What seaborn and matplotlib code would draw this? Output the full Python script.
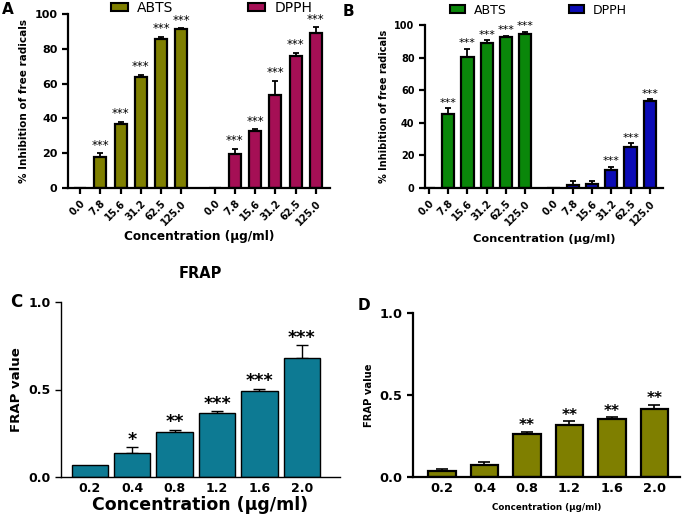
import numpy as np
import matplotlib
matplotlib.use("Agg")
import matplotlib.pyplot as plt
from matplotlib.patches import Patch
import seaborn as sns

sns.set_style("ticks")
plt.rcParams['font.family'] = ['DejaVu Sans']
plt.rcParams['font.weight'] = 'bold'
for key in ['text.color', 'axes.labelcolor', 'xtick.color', 'ytick.color', 'axes.edgecolor']:
    plt.rcParams[key] = 'black'

# ---- data ----
conc_ab = ["0.0", "7.8", "15.6", "31.2", "62.5", "125.0"]
conc_frap = ["0.2", "0.4", "0.8", "1.2", "1.6", "2.0"]

# panel A
a_abts = [0, 17.8, 36.9, 63.7, 85.7, 91.2]
a_abts_err = [0, 2.3, 1.1, 1.5, 1.3, 0.6]
a_abts_sig = ["", "***", "***", "***", "***", "***"]
a_dpph = [0, 19.7, 32.5, 53.5, 75.9, 88.9]
a_dpph_err = [0, 2.9, 1.3, 8.1, 1.9, 3.5]
a_dpph_sig = ["", "***", "***", "***", "***", "***"]

# panel B
b_abts = [0, 45.3, 80.6, 89.2, 92.4, 94.3]
b_abts_err = [0, 3.5, 4.7, 1.4, 1.1, 1.6]
b_abts_sig = ["", "***", "***", "***", "***", "***"]
b_dpph = [0, 2.0, 2.4, 10.8, 25.3, 53.1]
b_dpph_err = [0, 2.5, 2.1, 2.1, 2.3, 1.4]
b_dpph_sig = ["", "", "", "***", "***", "***"]

# panel C
c_frap = [0.067, 0.139, 0.257, 0.368, 0.49, 0.68]
c_frap_err = [0, 0.032, 0.013, 0.009, 0.015, 0.072]
c_frap_sig = ["", "*", "**", "***", "***", "***"]

# panel D
d_frap = [0.035, 0.073, 0.261, 0.316, 0.353, 0.414]
d_frap_err = [0.016, 0.017, 0.015, 0.025, 0.012, 0.027]
d_frap_sig = ["", "", "**", "**", "**", "**"]

# colours
col_a_abts = "#7f7f00"
col_a_dpph = "#a50f55"
col_b_abts = "#0a870a"
col_b_dpph = "#0b0bb5"
col_c = "#0d7a93"
col_d = "#7f7f00"

W, H = 685, 521
fig = plt.figure(figsize=(W / 100, H / 100), dpi=100)


def axes_px(left, top, right, bottom):
    return fig.add_axes([left / W, 1 - bottom / H, (right - left) / W, (bottom - top) / H])


def draw_series(ax, x, vals, errs, sigs, color, width, lw, capsize, elw,
                star_size, star_pad, star_weight="normal"):
    sns.barplot(x=x, y=vals, native_scale=True, color=color, saturation=1,
                edgecolor="black", linewidth=lw, width=width, errorbar=None,
                ax=ax, zorder=2)
    x = np.asarray(x, dtype=float)
    vals = np.asarray(vals, dtype=float)
    errs = np.asarray(errs, dtype=float)
    m = errs > 0
    ax.errorbar(x[m], vals[m], yerr=[np.zeros(m.sum()), errs[m]], fmt="none",
                ecolor="black", elinewidth=elw, capsize=capsize, capthick=elw, zorder=1)
    for xi, v, e, s in zip(x, vals, errs, sigs):
        if s:
            ax.text(xi, v + e + star_pad, s, ha="center", va="bottom",
                    fontsize=star_size, fontweight=star_weight)


def style_axes(ax, spine_w):
    sns.despine(ax=ax)
    for s in ["left", "bottom"]:
        ax.spines[s].set_linewidth(spine_w)
    ax.tick_params(width=spine_w, length=4)


def legend_two(ax, labels, colors, anchor, size, colspace):
    handles = [Patch(facecolor=c, edgecolor="black", linewidth=1.5, label=l)
               for l, c in zip(labels, colors)]
    ax.legend(handles=handles, loc="center left", bbox_to_anchor=anchor,
              bbox_transform=fig.transFigure, ncol=2, frameon=False,
              prop={"weight": "normal", "size": size},
              handlelength=1.2, handleheight=0.55, handletextpad=0.7,
              columnspacing=colspace, borderpad=0, borderaxespad=0)


# ---- panel A ----
axA = axes_px(68, 14, 330, 188)
xa1 = np.arange(len(conc_ab))
xa2 = xa1 + 6.65
draw_series(axA, xa1, a_abts, a_abts_err, a_abts_sig, col_a_abts, 0.6, 1.6, 2.5, 1.3, 8.5, 0.8)
draw_series(axA, xa2, a_dpph, a_dpph_err, a_dpph_sig, col_a_dpph, 0.6, 1.6, 2.5, 1.3, 8.5, 0.8)
axA.set_xlim(-0.6, xa2[-1] + 0.7)
axA.set_ylim(0, 100)
axA.set_yticks([0, 20, 40, 60, 80, 100])
axA.set_xticks(np.concatenate([xa1, xa2]))
axA.set_xticklabels(conc_ab + conc_ab, rotation=45, ha="right", rotation_mode="anchor",
                    fontsize=7, fontweight="bold")
axA.tick_params(axis="y", labelsize=8)
axA.set_ylabel("% Inhibition of free radicals", fontsize=7.5, fontweight="bold")
axA.set_xlabel("Concentration (µg/ml)", fontsize=8.7, fontweight="bold", labelpad=2)
style_axes(axA, 1.6)
legend_two(axA, ["ABTS", "DPPH"], [col_a_abts, col_a_dpph], (111 / W, 1 - 8 / H), 10, 5.35)

# ---- panel B ----
axB = axes_px(425, 25, 663, 188)
xb1 = np.arange(len(conc_ab))
xb2 = xb1 + 6.46
draw_series(axB, xb1, b_abts, b_abts_err, b_abts_sig, col_b_abts, 0.64, 1.6, 2.5, 1.3, 8, 0.3)
draw_series(axB, xb2, b_dpph, b_dpph_err, b_dpph_sig, col_b_dpph, 0.64, 1.6, 2.5, 1.3, 8, 0.3)
axB.set_xlim(-0.2, xb2[-1] + 0.68)
axB.set_ylim(0, 100)
axB.set_yticks([0, 20, 40, 60, 80, 100])
axB.set_xticks(np.concatenate([xb1, xb2]))
axB.set_xticklabels(conc_ab + conc_ab, rotation=45, ha="right", rotation_mode="anchor",
                    fontsize=7, fontweight="bold")
axB.tick_params(axis="y", labelsize=7)
axB.set_ylabel("% Inhibition of free radicals", fontsize=7, fontweight="bold")
axB.set_xlabel("Concentration (µg/ml)", fontsize=8.2, fontweight="bold", labelpad=5)
style_axes(axB, 1.6)
legend_two(axB, ["ABTS", "DPPH"], [col_b_abts, col_b_dpph], (450 / W, 1 - 10 / H), 9, 4.95)

# ---- panel C ----
axC = axes_px(61, 302, 340, 477)
xc = np.arange(len(conc_frap))
draw_series(axC, xc, c_frap, c_frap_err, c_frap_sig, col_c, 0.86, 1.0, 4, 1.0, 12.5, -0.01, "bold")
axC.set_xlim(-0.68, xc[-1] + 0.9)
axC.set_ylim(0, 1.0)
axC.set_yticks([0.0, 0.5, 1.0])
axC.set_yticklabels(["0.0", "0.5", "1.0"], fontsize=9, fontweight="bold")
axC.set_xticks(xc)
axC.set_xticklabels(conc_frap, fontsize=9, fontweight="bold")
axC.set_ylabel("FRAP value", fontsize=9.5, fontweight="bold")
axC.set_xlabel("Concentration (µg/ml)", fontsize=12.5, fontweight="bold", labelpad=1)
axC.set_title("FRAP", fontsize=10.5, fontweight="bold", pad=17)
style_axes(axC, 1.0)
axC.tick_params(axis="x", length=0)

# ---- panel D ----
axD = axes_px(413, 313, 680, 477)
xd = np.arange(len(conc_frap))
draw_series(axD, xd, d_frap, d_frap_err, d_frap_sig, col_d, 0.64, 1.6, 4, 1.2, 11, -0.01, "bold")
axD.set_xlim(-0.68, xd[-1] + 0.6)
axD.set_ylim(0, 1.0)
axD.set_yticks([0.0, 0.5, 1.0])
axD.set_yticklabels(["0.0", "0.5", "1.0"], fontsize=9.3, fontweight="bold")
axD.set_xticks(xd)
axD.set_xticklabels(conc_frap, fontsize=9.3, fontweight="bold")
axD.set_ylabel("FRAP value", fontsize=7.2, fontweight="bold")
axD.set_xlabel("Concentration (µg/ml)", fontsize=6.3, fontweight="bold", labelpad=6)
style_axes(axD, 1.6)
axD.tick_params(axis="x", length=0)

# panel letters
fig.text(2 / W, 1 - 9 / H, "A", fontsize=11, fontweight="bold", va="center")
fig.text(343 / W, 1 - 11 / H, "B", fontsize=11, fontweight="bold", va="center")
fig.text(10 / W, 1 - 302 / H, "C", fontsize=12, fontweight="bold", va="center")
fig.text(358 / W, 1 - 305 / H, "D", fontsize=11, fontweight="bold", va="center")

fig.savefig("out.png", dpi=100)
